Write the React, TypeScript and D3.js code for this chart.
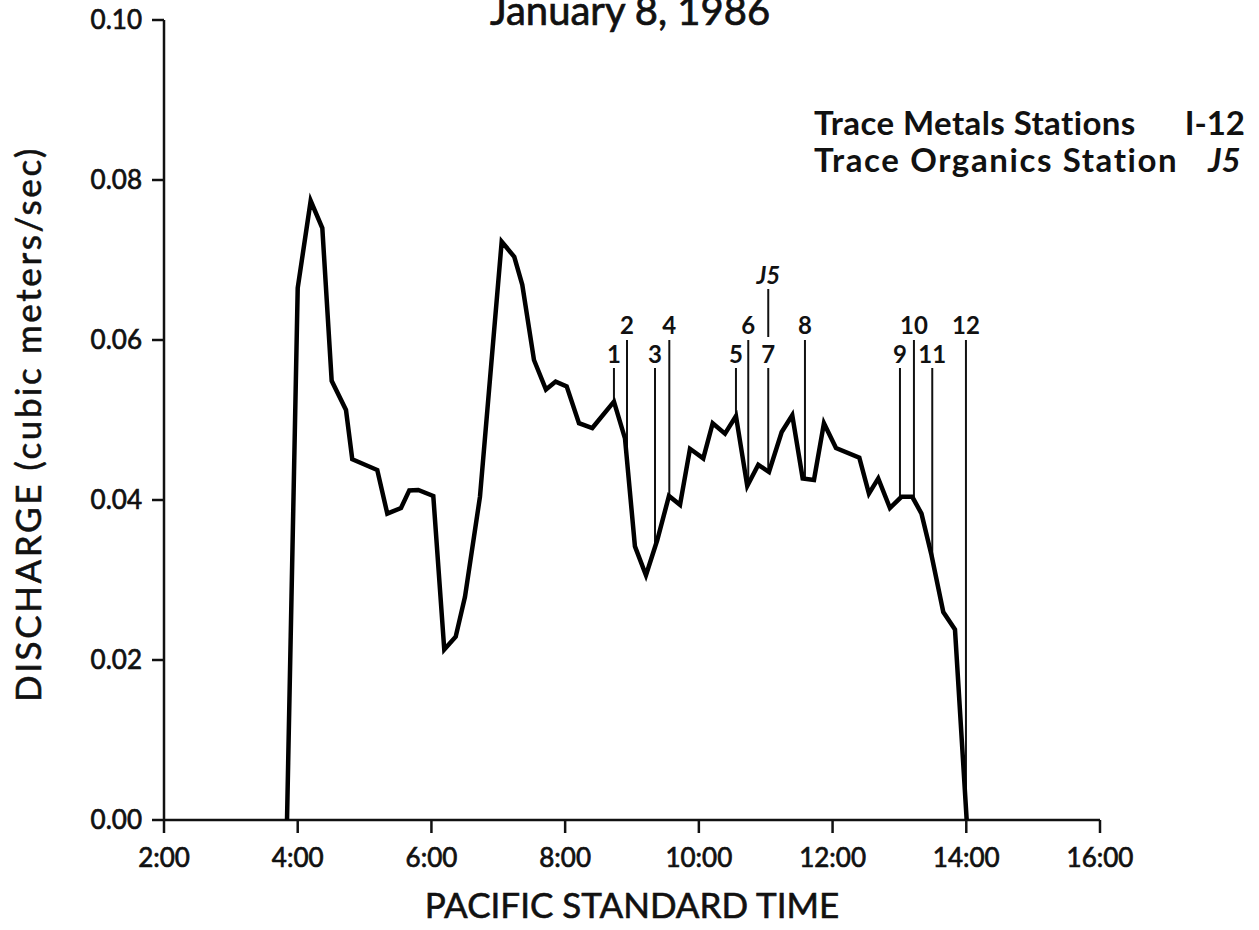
import React from "react";
import * as d3 from "d3";

// time in decimal hours (Pacific Standard Time)
const times = [
  3.84, 4.0, 4.194, 4.368, 4.508, 4.722, 4.816, 5.19, 5.34, 5.545, 5.669, 5.803,
  6.028, 6.192, 6.363, 6.502, 6.726, 7.051, 7.239, 7.359, 7.534, 7.713, 7.858,
  8.023, 8.207, 8.406, 8.73, 8.895, 9.044, 9.209, 9.378, 9.553, 9.718, 9.867,
  10.066, 10.207, 10.391, 10.555, 10.724, 10.889, 11.049, 11.239, 11.397, 11.553,
  11.722, 11.871, 12.051, 12.4, 12.544, 12.683, 12.858, 13.03, 13.192, 13.33,
  13.48, 13.656, 13.831, 14.006,
];
// discharge in cubic meters/sec
const discharge = [
  0.0, 0.0665, 0.0774, 0.074, 0.0549, 0.05125, 0.0451, 0.04375, 0.0383, 0.039,
  0.0412, 0.04125, 0.0405, 0.0213, 0.0229, 0.0279, 0.0404, 0.0723, 0.0704, 0.0669,
  0.0575, 0.0538, 0.0548, 0.0542, 0.0496, 0.049, 0.0523, 0.0477, 0.0342, 0.0306,
  0.035, 0.0405, 0.0394, 0.0464, 0.0452, 0.0496, 0.0483, 0.0505, 0.04175, 0.0444,
  0.0435, 0.0485, 0.0506, 0.0427, 0.0425, 0.0496, 0.0465, 0.0453, 0.0408, 0.0427,
  0.039, 0.0404, 0.0404, 0.0383, 0.0331, 0.026, 0.0238, 0.0,
];

const stationNames = ["1", "2", "3", "4", "5", "6", "7", "8", "9", "10", "11", "12"];
const stationTimes = [8.73, 8.925, 9.344, 9.558, 10.555, 10.739, 11.038, 11.587, 13.008, 13.217, 13.491, 13.995];
const organicsStation = "J5";
const organicsTime = 11.038;

const xTickValues = [2, 4, 6, 8, 10, 12, 14, 16];
const xTickLabels = ["2:00", "4:00", "6:00", "8:00", "10:00", "12:00", "14:00", "16:00"];
const yTickValues = [0, 0.02, 0.04, 0.06, 0.08, 0.1];
const yTickLabels = ["0.00", "0.02", "0.04", "0.06", "0.08", "0.10"];

const titleText = "January 8, 1986";
const xTitle = "PACIFIC STANDARD TIME";
const yTitle = "DISCHARGE (cubic meters/sec)";
const legendMetals = "Trace Metals Stations";
const legendMetalsRange = "I-12";
const legendOrganics = "Trace Organics Station";

const W = 1259;
const H = 930;
const FONT = "Lato, 'Open Sans', sans-serif";
const INK = "#111";

export default function App() {
  const x = d3.scaleLinear().domain([2, 16]).range([164, 1100]);
  const y = d3.scaleLinear().domain([0, 0.1]).range([820, 20]);

  const pts = times.map((t, i) => [t, discharge[i]] as [number, number]);
  const line = d3
    .line<[number, number]>()
    .x((d) => x(d[0]))
    .y((d) => y(d[1]))
    .curve(d3.curveLinear);

  const valueAt = (t: number) => {
    const i = d3.bisectRight(times, t);
    if (i <= 0) return discharge[0];
    if (i >= times.length) return discharge[discharge.length - 1];
    const t0 = times[i - 1], t1 = times[i];
    const f = (t - t0) / (t1 - t0);
    return discharge[i - 1] + f * (discharge[i] - discharge[i - 1]);
  };

  const lowTop = y(0.0565);
  const highTop = y(0.06);

  return (
    <svg
      width={W}
      height={H}
      style={{ position: "absolute", left: 0, top: 0, background: "#fff" }}
      fontFamily={FONT}
    >
      <rect x={0} y={0} width={W} height={H} fill="#fff" />
      {/* title */}
      <text x={630} y={25} textAnchor="middle" fontSize={40} fill={INK} stroke={INK} strokeWidth={0.7}>
        {titleText}
      </text>

      {/* legend */}
      <g fontWeight={700} fontSize={33} fill={INK}>
        <text x={814} y={135} letterSpacing={0.4}>{legendMetals}</text>
        <text x={1245} y={135} textAnchor="end">{legendMetalsRange}</text>
        <text x={814} y={172} letterSpacing={1.6}>{legendOrganics}</text>
        <text x={1208} y={172} fontStyle="italic">{organicsStation}</text>
      </g>

      {/* axes */}
      <g stroke={INK} strokeWidth={2.5} fill="none">
        <line x1={x(2)} x2={x(2)} y1={y(0.1)} y2={y(0) + 1} />
        <line x1={x(2) - 1} x2={x(16)} y1={y(0)} y2={y(0)} />
        {yTickValues.map((v) => (
          <line key={"yt" + v} x1={x(2) - 12} x2={x(2)} y1={y(v)} y2={y(v)} />
        ))}
        {xTickValues.map((v) => (
          <line key={"xt" + v} x1={x(v)} x2={x(v)} y1={y(0)} y2={y(0) + 13} />
        ))}
      </g>
      <g fontSize={26} fill={INK} stroke={INK} strokeWidth={0.7}>
        {yTickValues.map((v, i) => (
          <text key={"yl" + v} x={x(2) - 22} y={y(v)} dy="0.35em" textAnchor="end">
            {yTickLabels[i]}
          </text>
        ))}
        {xTickValues.map((v, i) => (
          <text key={"xl" + v} x={x(v)} y={867} textAnchor="middle">
            {xTickLabels[i]}
          </text>
        ))}
      </g>
      <text x={632} y={918} textAnchor="middle" fontSize={35} fill={INK} stroke={INK} strokeWidth={0.6}>
        {xTitle}
      </text>
      <text
        transform={`translate(41, 424) rotate(-90)`}
        textAnchor="middle"
        fontSize={35}
        letterSpacing={2.6}
        fill={INK}
        stroke={INK}
        strokeWidth={0.6}
      >
        {yTitle}
      </text>

      {/* station markers */}
      <g stroke={INK} strokeWidth={2}>
        {stationTimes.map((t, i) => {
          const high = i % 2 === 1;
          const top = high ? highTop : lowTop;
          const bottom = y(i === stationTimes.length - 1 ? 0 : valueAt(t));
          return <line key={"sl" + i} x1={x(t)} x2={x(t)} y1={top} y2={bottom} />;
        })}
        <line x1={x(organicsTime)} x2={x(organicsTime)} y1={289} y2={337} />
      </g>
      <g fontSize={24} fontWeight={700} fill={INK} textAnchor="middle">
        {stationTimes.map((t, i) => {
          const high = i % 2 === 1;
          return (
            <text key={"st" + i} x={x(t)} y={high ? 334 : 363}>
              {stationNames[i]}
            </text>
          );
        })}
        <text x={x(organicsTime)} y={284} fontStyle="italic">
          {organicsStation}
        </text>
      </g>

      {/* discharge line */}
      <path d={line(pts) || ""} fill="none" stroke="#000" strokeWidth={4.5} strokeLinejoin="miter" strokeMiterlimit={4} />
    </svg>
  );
}
